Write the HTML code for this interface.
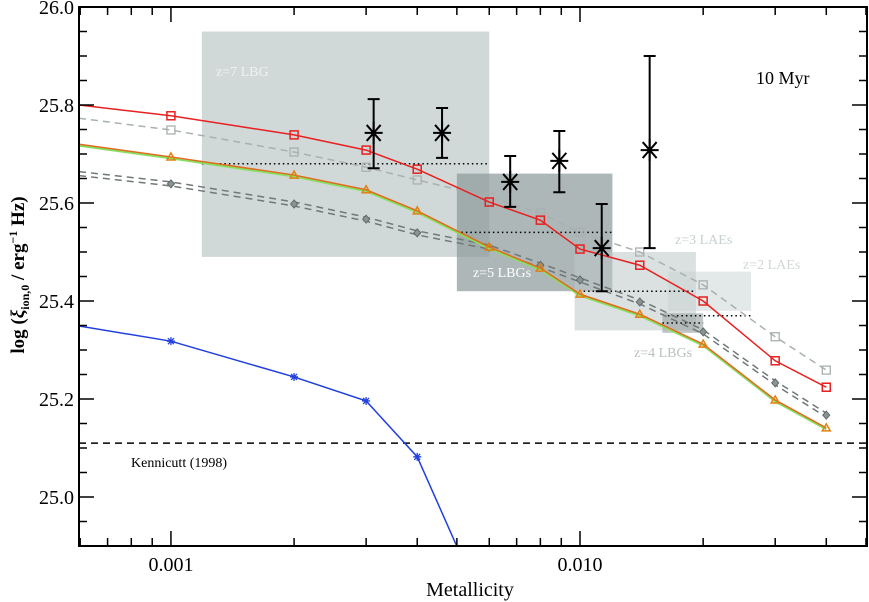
<!DOCTYPE html>
<html><head><meta charset="utf-8"><style>
body{margin:0;background:#fff;}
svg{display:block;font-family:"Liberation Serif",serif;}
</style></head><body>
<svg id="c" width="869" height="602"></svg>
<script>
const mets=[0.001,0.002,0.003,0.004,0.006,0.008,0.010,0.014,0.020,0.030,0.040];
const redVals=[25.778,25.739,25.708,25.669,25.602,25.565,25.506,25.473,25.400,25.278,25.224];
const redStart=25.80;
const graySqVals=[25.749,25.704,25.673,25.647,25.612,25.58,25.54,25.50,25.433,25.327,25.259];
const graySqStart=25.773;
const orangeVals=[25.694,25.657,25.627,25.584,25.510,25.467,25.414,25.373,25.312,25.198,25.141];
const orangeStart=25.72;
const diamVals=[25.639,25.598,25.567,25.539,25.510,25.473,25.443,25.398,25.337,25.233,25.167];
const diamStart=25.66;
const blueMets=[0.001,0.002,0.003,0.004,0.006];
const blueVals=[25.318,25.245,25.196,25.082,24.75];
const blueStart=25.349;
const obsMets=[0.00313,0.0046,0.00675,0.0089,0.0113,0.0148];
const obsVals=[25.743,25.743,25.643,25.686,25.508,25.708];
const obsHi=[25.812,25.794,25.696,25.747,25.598,25.900];
const obsLo=[25.671,25.692,25.592,25.622,25.420,25.508];
const boxNames=["z=7 LBG","z=5 LBGs","z=3 LAEs","z=2 LAEs","z=4 LBGs"];
const boxZlo=[0.00119,0.0050,0.0097,0.0164,0.0159];
const boxZhi=[0.0060,0.0120,0.0192,0.0262,0.0200];
const boxYlo=[25.49,25.42,25.34,25.38,25.335];
const boxYhi=[25.95,25.66,25.50,25.46,25.375];
const boxMid=[25.68,25.54,25.42,25.37,25.355];
const yTicks=[25.0,25.2,25.4,25.6,25.8,26.0];
const xTicks=[0.001,0.010];
const xTickLabels=["0.001","0.010"];
const kennicutt=25.11;

const L=79,R=867,T=7,B=546;
const xmin=Math.log10(0.000596),xmax=Math.log10(0.0503),ymin=24.9,ymax=26.0;
const X=m=>L+(Math.log10(m)-xmin)/(xmax-xmin)*(R-L);
const Y=v=>B-(v-ymin)/(ymax-ymin)*(B-T);
const svg=document.getElementById('c');
const NS='http://www.w3.org/2000/svg';
function mk(tag,attrs,parent){const e=document.createElementNS(NS,tag);for(const k in attrs)e.setAttribute(k,attrs[k]);(parent||svg).appendChild(e);return e;}
const defs=mk('defs',{});
const cp=mk('clipPath',{id:'clip'},defs);mk('rect',{x:L,y:T,width:R-L,height:B-T},cp);

const boxFill=['rgba(190,200,200,0.7)','rgba(140,152,152,0.7)','rgba(190,200,200,0.55)','rgba(200,210,210,0.5)','rgba(150,160,160,0.6)'];
const labXY=[[216,76,'#eef2f2'],[473,277,'#fff'],[675,244,'#c8d0d0'],[743,269,'#d0d6d6'],[634,357,'#b8c0c0']];
for(let i=0;i<boxNames.length;i++){
  const x1=X(boxZlo[i]),x2=X(boxZhi[i]),y1=Y(boxYhi[i]),y2=Y(boxYlo[i]);
  const r=mk('rect',{x:x1,y:y1,width:x2-x1,height:y2-y1,fill:boxFill[i]});
  
  
}
for(let i=0;i<boxNames.length;i++){
  const x1=X(boxZlo[i]),x2=X(boxZhi[i]);
  const d=mk('line',{x1:x1,x2:x2,y1:Y(boxMid[i]),y2:Y(boxMid[i]),stroke:'#000','stroke-width':1.5,'stroke-dasharray':'1.5 3'});
  
  
}
for(let i=0;i<boxNames.length;i++){
  const t=mk('text',{x:labXY[i][0],y:labXY[i][1],fill:labXY[i][2],'font-size':14});
  t.textContent=boxNames[i];
  
  
}
const g=mk('g',{'clip-path':'url(#clip)'});
function series(startV,ms,vs,color,w,dash,off){
  let pts=[[L,Y(startV)+(off||0)]];
  for(let i=0;i<ms.length;i++)pts.push([X(ms[i]),Y(vs[i])+(off||0)]);
  return mk('polyline',{points:pts.map(p=>p.join(',')).join(' '),fill:'none',stroke:color,'stroke-width':w,'stroke-dasharray':dash||'none'},g);
}
const kl=mk('line',{x1:L,x2:R,y1:Y(kennicutt),y2:Y(kennicutt),stroke:'#000','stroke-width':1.5,'stroke-dasharray':'7 5'},g);


let s;
s=series(graySqStart,mets,graySqVals,'#a8b0b0',1.5,'7 5');


for(let i=0;i<mets.length;i++){const m=mk('rect',{x:X(mets[i])-4,y:Y(graySqVals[i])-4,width:8,height:8,fill:'none',stroke:'#a8b0b0','stroke-width':1.3},g);

}
s=series(diamStart,mets,diamVals,'#707878',1.5,'7 5',-2);


s=series(diamStart,mets,diamVals,'#707878',1.5,'7 5',2);


for(let i=0;i<mets.length;i++){const x=X(mets[i]),y=Y(diamVals[i]);const m=mk('path',{d:`M${x},${y-4}L${x+3.5},${y}L${x},${y+4}L${x-3.5},${y}Z`,fill:'#8a9494',stroke:'#606a6a','stroke-width':1},g);

}
s=series(orangeStart,mets,orangeVals,'#88e060',2,null,1.5);


s=series(orangeStart,mets,orangeVals,'#e06a20',1.5);


for(let i=0;i<mets.length;i++){const x=X(mets[i]),y=Y(orangeVals[i]);const m=mk('path',{d:`M${x},${y-4}L${x+4},${y+3}L${x-4},${y+3}Z`,fill:'none',stroke:'#e08010','stroke-width':1.5},g);

}
s=series(redStart,mets,redVals,'#e82020',1.5);


for(let i=0;i<mets.length;i++){const m=mk('rect',{x:X(mets[i])-4,y:Y(redVals[i])-4,width:8,height:8,fill:'none',stroke:'#e82020','stroke-width':1.5},g);

}
s=series(blueStart,blueMets,blueVals,'#2040e0',1.5);


for(let i=0;i<blueMets.length;i++){const x=X(blueMets[i]),y=Y(blueVals[i]);const m=mk('path',{d:`M${x-4},${y}H${x+4}M${x},${y-4}V${y+4}M${x-3},${y-3}L${x+3},${y+3}M${x-3},${y+3}L${x+3},${y-3}`,stroke:'#2040e0','stroke-width':1.3},g);

}
for(let i=0;i<obsMets.length;i++){
  const x=X(obsMets[i]),y=Y(obsVals[i]),yh=Y(obsHi[i]),yl=Y(obsLo[i]);
  const e=mk('path',{d:`M${x},${yh}V${yl}M${x-6},${yh}H${x+6}M${x-6},${yl}H${x+6}`,stroke:'#000','stroke-width':2,fill:'none'},g);
  
  
  const a=mk('path',{d:`M${x-9},${y}H${x+9}M${x},${y-11}V${y+11}M${x-7},${y-8}L${x+7},${y+8}M${x-7},${y+8}L${x+7},${y-8}`,stroke:'#000','stroke-width':2},g);
  
  
}
const fr=mk('rect',{x:L,y:T,width:R-L,height:B-T,fill:'none',stroke:'#000','stroke-width':2});


for(let v=24.9;v<=26.001;v+=0.05){
  const y=Y(v);const maj=Math.abs(v*5-Math.round(v*5))<0.01;const len=maj?15:8;
  mk('line',{x1:L,x2:L+len,y1:y,y2:y,stroke:'#000','stroke-width':1.5});
  mk('line',{x1:R,x2:R-len,y1:y,y2:y,stroke:'#000','stroke-width':1.5});
}
for(const v of yTicks){const t=mk('text',{x:L-5,y:Y(v)+7,'text-anchor':'end','font-size':20});t.textContent=v.toFixed(1);

}
for(let d=-4;d<=-1;d++)for(let k=1;k<10;k++){const m=k*Math.pow(10,d);if(m<0.0006||m>0.0503)continue;const x=X(m);const len=k==1?15:8;
  mk('line',{x1:x,x2:x,y1:B,y2:B-len,stroke:'#000','stroke-width':1.5});
  mk('line',{x1:x,x2:x,y1:T,y2:T+len,stroke:'#000','stroke-width':1.5});}
for(let i=0;i<xTicks.length;i++){const t=mk('text',{x:X(xTicks[i]),y:B+25,'text-anchor':'middle','font-size':20});t.textContent=xTickLabels[i];

}
let t=mk('text',{x:470,y:596,'text-anchor':'middle','font-size':20});t.textContent='Metallicity';


t=mk('text',{transform:'translate(24,275) rotate(-90)','text-anchor':'middle','font-size':19,'font-weight':'bold'});
t.innerHTML='log (<tspan font-style="italic">ξ</tspan><tspan font-size="12" dy="5">ion,0</tspan><tspan dy="-5"> / erg</tspan><tspan font-size="12" dy="-7">−1</tspan><tspan dy="7"> Hz)</tspan>';


t=mk('text',{x:756,y:84,'font-size':18});t.textContent='10 Myr';


t=mk('text',{x:131,y:467,'font-size':14});t.textContent='Kennicutt (1998)';


</script>
</body></html>
